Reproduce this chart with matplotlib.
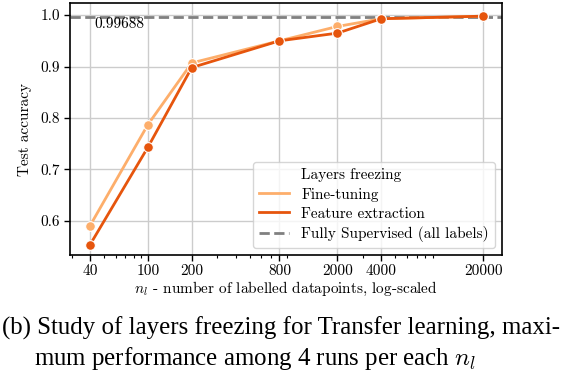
import numpy as np
import matplotlib
matplotlib.use("Agg")
import matplotlib.pyplot as plt
from matplotlib.lines import Line2D

# data
n_labels = [40, 100, 200, 800, 2000, 4000, 20000]
fine_tuning = [0.590, 0.787, 0.907, 0.950, 0.978, 0.993, 0.998]
feature_extraction = [0.553, 0.743, 0.898, 0.950, 0.965, 0.993, 0.998]
fully_supervised = 0.99688

plt.rcParams['font.family'] = 'serif'
plt.rcParams['font.serif'] = ['cmr10', 'DejaVu Serif']
plt.rcParams['mathtext.fontset'] = 'cm'
plt.rcParams['axes.formatter.use_mathtext'] = True
plt.rcParams['axes.unicode_minus'] = False

fs = 11

fig = plt.figure(figsize=(5.62, 3.72), dpi=100)
ax = fig.add_axes([0.1246, 0.3145, 0.7687, 0.677])

c_fine = '#fdae6b'
c_feat = '#e6550d'

ax.grid(True, color='#cccccc', linewidth=1.0, zorder=0)
ax.set_axisbelow(True)

ax.axhline(fully_supervised, color='#808080', linestyle='--', linewidth=2, zorder=2)
ax.plot(n_labels, fine_tuning, color=c_fine, linewidth=2, marker='o', markersize=7,
        markeredgecolor='white', markeredgewidth=0.8, zorder=3)
ax.plot(n_labels, feature_extraction, color=c_feat, linewidth=2, marker='o', markersize=7,
        markeredgecolor='white', markeredgewidth=0.8, zorder=4)
ax.text(43, fully_supervised - 0.002, '%.5f' % fully_supervised, fontsize=fs,
        va='top', ha='left')

ax.set_xscale('log')
ax.set_xlim(29.2, 26980)
ax.set_ylim(0.5333, 1.0233)
ax.set_xticks(n_labels)
ax.set_xticklabels([str(n) for n in n_labels])
ax.set_yticks([0.6, 0.7, 0.8, 0.9, 1.0])
ax.set_yticklabels(['0.6', '0.7', '0.8', '0.9', '1.0'])
ax.tick_params(labelsize=fs, length=4, width=1, pad=3)
ax.tick_params(which='minor', length=2.5, width=0.8)
for s in ax.spines.values():
    s.set_color('black')
    s.set_linewidth(1.2)

ax.set_ylabel('Test accuracy', fontsize=fs, labelpad=6)
ax.set_xlabel(r'$n_l$ - number of labelled datapoints, log-scaled', fontsize=fs, labelpad=1)

handles = [Line2D([], [], color='none'),
           Line2D([], [], color=c_fine, linewidth=2),
           Line2D([], [], color=c_feat, linewidth=2),
           Line2D([], [], color='#808080', linewidth=2, linestyle='--')]
labels = ['Layers freezing', 'Fine-tuning', 'Feature extraction',
          'Fully Supervised (all labels)']
leg = ax.legend(handles, labels, loc='lower right', fontsize=fs, framealpha=0.8,
                handlelength=2.0, borderaxespad=0.45, labelspacing=0.35)

fig.text(0.004, 1 - 328 / 372, '(b) Study of layers freezing for Transfer learning, maxi-',
         ha='left', va='center', fontsize=17.9, family='Liberation Serif')
fig.text(0.061, 1 - 359 / 372, r'mum performance among 4 runs per each $n_l$',
         ha='left', va='center', fontsize=17.9, family='Liberation Serif')

fig.savefig('out.png', dpi=100)
